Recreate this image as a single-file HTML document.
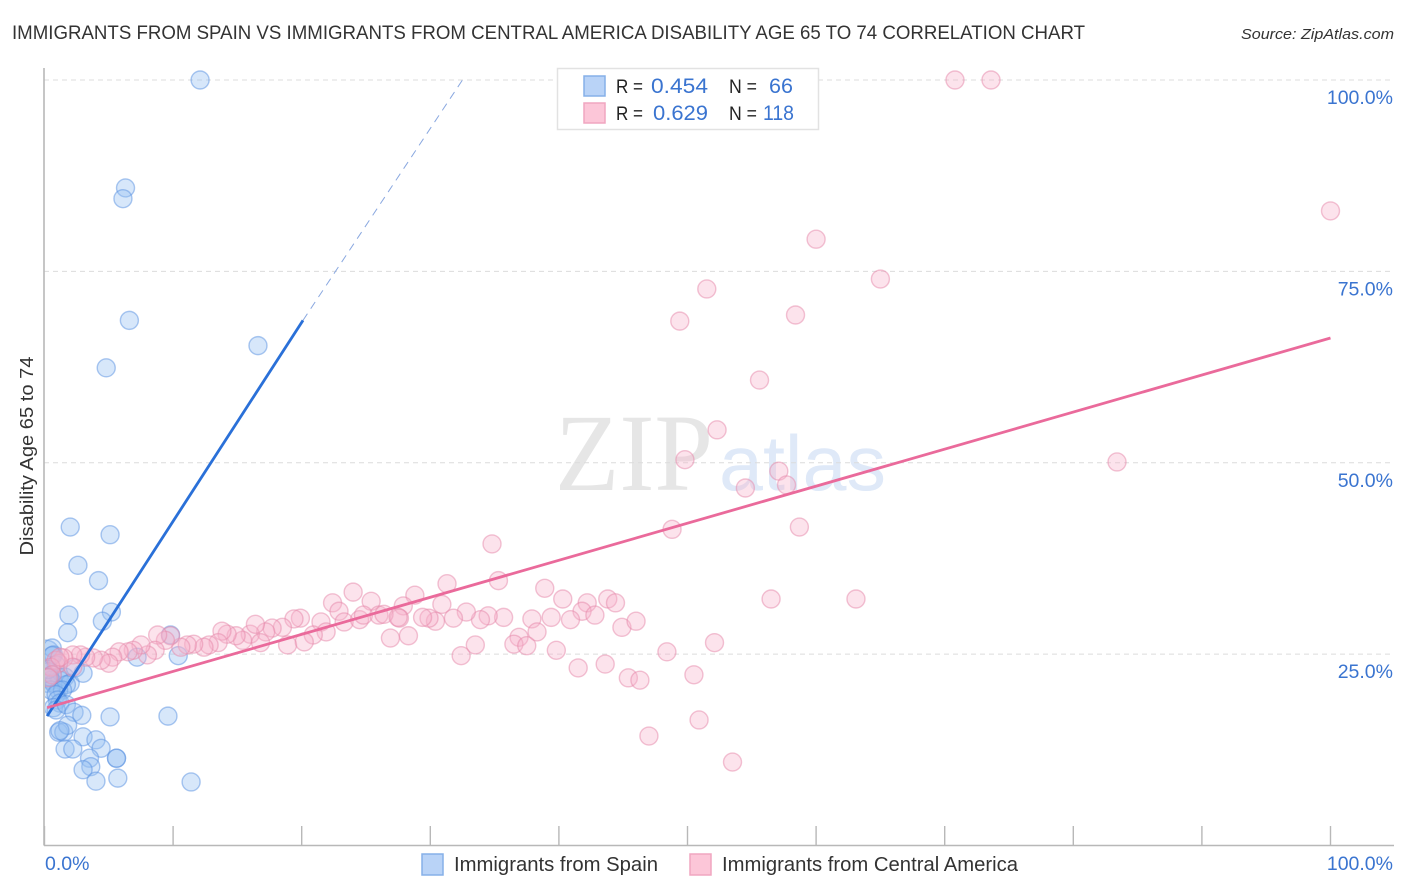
<!DOCTYPE html>
<html lang="en">
<head>
<meta charset="utf-8">
<title>Immigrants from Spain vs Immigrants from Central America Disability Age 65 to 74 Correlation Chart</title>
<style>
html,body{margin:0;padding:0;background:#fff;}
svg{display:block;}
text{font-family:"Liberation Sans",sans-serif;}
</style>
</head>
<body>
<svg id="chart" xmlns="http://www.w3.org/2000/svg" width="1406" height="892" viewBox="0 0 1406 892">
  <defs>
    <clipPath id="plot-clip"><rect x="45" y="60" width="1350" height="785"/></clipPath>
  </defs>
  <rect x="0" y="0" width="1406" height="892" fill="#fff"/>
  <text x="12" y="39" font-size="19.5" fill="#333" textLength="1073" lengthAdjust="spacingAndGlyphs">IMMIGRANTS FROM SPAIN VS IMMIGRANTS FROM CENTRAL AMERICA DISABILITY AGE 65 TO 74 CORRELATION CHART</text>
  <text x="1241" y="39" font-size="15" font-style="italic" fill="#333" textLength="153" lengthAdjust="spacingAndGlyphs">Source: ZipAtlas.com</text>

  <text x="555" y="490" font-size="110" fill="#e6e6e6" textLength="158" lengthAdjust="spacingAndGlyphs" style="font-family:'Liberation Serif',serif">ZIP</text>
  <text x="719" y="490" font-size="78" fill="#dfe9f8" textLength="167" lengthAdjust="spacingAndGlyphs">atlas</text>

  <g id="grid"></g>
  <g id="axes"></g>
  <g id="spain-points" clip-path="url(#plot-clip)"></g>
  <g id="central-points" clip-path="url(#plot-clip)"></g>
  <g id="trends"></g>
  <g id="tick-labels"></g>

  <text transform="translate(33,456) rotate(-90)" text-anchor="middle" font-size="18" fill="#333" textLength="199" lengthAdjust="spacingAndGlyphs">Disability Age 65 to 74</text>

  <g>
    <rect x="557.5" y="68.5" width="261" height="61" fill="#fff" stroke="#e2e2e2" stroke-width="1.5"/>
    <rect x="584" y="76" width="21" height="20" fill="#b9d3f7" stroke="#86b0e8" stroke-width="1.5"/>
    <rect x="584" y="103" width="21" height="20" fill="#fcc6d8" stroke="#f0a6c0" stroke-width="1.5"/>
    <text x="616" y="93" font-size="19" fill="#222" textLength="27" lengthAdjust="spacingAndGlyphs">R =</text>
    <text x="651" y="93" font-size="21" fill="#3a74d0" textLength="57" lengthAdjust="spacingAndGlyphs">0.454</text>
    <text x="729" y="93" font-size="19" fill="#222" textLength="28" lengthAdjust="spacingAndGlyphs">N =</text>
    <text x="769" y="93" font-size="21" fill="#3a74d0" textLength="24" lengthAdjust="spacingAndGlyphs">66</text>
    <text x="616" y="120" font-size="19" fill="#222" textLength="27" lengthAdjust="spacingAndGlyphs">R =</text>
    <text x="653" y="120" font-size="21" fill="#3a74d0" textLength="55" lengthAdjust="spacingAndGlyphs">0.629</text>
    <text x="729" y="120" font-size="19" fill="#222" textLength="28" lengthAdjust="spacingAndGlyphs">N =</text>
    <text x="763" y="120" font-size="21" fill="#3a74d0" textLength="31" lengthAdjust="spacingAndGlyphs">118</text>
  </g>

  <g>
    <rect x="422" y="854" width="21" height="21" fill="#b9d3f7" stroke="#86b0e8" stroke-width="1.5"/>
    <text x="454" y="871" font-size="20" fill="#333" textLength="204" lengthAdjust="spacingAndGlyphs">Immigrants from Spain</text>
    <rect x="690" y="854" width="21" height="21" fill="#fcc6d8" stroke="#f0a6c0" stroke-width="1.5"/>
    <text x="722" y="871" font-size="20" fill="#333" textLength="296" lengthAdjust="spacingAndGlyphs">Immigrants from Central America</text>
  </g>
</svg>
<script>
// Percent values
const spainX = [12.1,6.3,6.1,6.6,16.6,4.8,2.0,5.1,2.6,4.2,1.9,5.2,4.5,1.8,9.8,7.2,10.4,0.6,0.7,0.6,0.9,0.3,0.6,1.1,0.5,1.2,0.2,0.7,1.6,2.0,1.7,1.1,0.5,1.4,0.9,1.0,1.2,0.7,0.9,1.7,2.4,3.0,2.3,2.9,5.1,9.6,1.1,1.5,1.8,1.2,3.0,4.0,4.4,1.6,2.2,5.6,5.6,3.5,3.6,3.0,4.0,5.7,11.4,0.3,0.4];
const spainY = [100,85.9,84.5,68.6,65.3,62.4,41.6,40.6,36.6,34.6,30.1,30.5,29.3,27.8,27.5,24.6,24.8,25.8,24.9,24.8,23.6,22.7,22.3,22.0,21.6,21.6,21.2,21.2,22.0,21.2,21.0,20.3,20.3,20.3,19.7,19.0,18.6,18.0,17.7,18.4,23.2,22.5,17.4,17.0,16.8,16.9,14.8,14.8,15.7,15.0,14.2,13.8,12.7,12.6,12.6,11.4,11.4,11.4,10.3,9.9,8.4,8.8,8.3,23.0,22.0];
const spainLargeX = [0.1];
const spainLargeY = [25.0];
const centralX = [70.8,73.6,100,60.0,65.0,58.4,51.5,49.4,55.6,52.3,49.8,83.4,57.1,57.7,54.5,58.7,48.8,34.8,35.3,38.9,31.3,28.8,24.0,56.5,63.1,40.3,43.8,44.4,42.2,41.8,42.8,39.4,40.9,37.9,35.7,34.5,33.9,32.8,31.8,30.9,30.4,29.9,29.4,27.9,27.6,28.3,44.9,46.0,38.3,36.9,36.5,37.5,39.8,33.5,32.4,41.5,43.6,45.4,46.3,48.4,50.5,50.9,52.1,47.0,53.5,22.4,22.9,25.4,23.3,24.5,24.8,26.0,26.4,27.5,21.5,21.9,20.9,19.9,19.4,18.5,17.7,17.2,16.0,16.4,16.8,15.4,14.9,14.2,13.8,18.9,20.2,26.9,13.5,12.8,12.4,11.6,11.1,10.6,9.8,9.4,8.8,8.6,8.0,7.5,6.9,6.5,5.8,5.3,5.0,4.4,3.8,3.2,2.8,2.2,1.5,1.1,0.9,0.5,0.6,2.2,1.2,0.3];
const centralY = [100,100,82.9,79.2,74.0,69.3,72.7,68.5,60.8,54.3,50.4,50.1,48.9,47.1,46.7,41.6,41.3,39.4,34.6,33.6,34.2,32.7,33.1,32.2,32.2,32.2,32.2,31.7,31.7,30.6,30.1,29.8,29.5,29.6,29.8,30.0,29.5,30.5,29.7,31.5,29.3,29.7,29.8,31.3,29.7,27.4,28.5,29.3,27.9,27.2,26.3,26.1,25.5,26.2,24.8,23.2,23.7,21.9,21.6,25.3,22.3,16.4,26.5,14.3,10.9,31.7,30.6,31.9,29.2,29.5,30.1,30.1,30.2,29.8,29.2,27.9,27.5,29.7,29.6,28.5,28.4,27.9,27.6,28.9,26.5,26.8,27.4,27.6,28.0,26.2,26.6,27.1,26.5,26.2,25.9,26.3,26.2,25.9,27.4,26.8,27.5,25.5,24.9,26.2,25.5,25.3,25.3,24.6,23.8,24.2,24.5,24.6,24.9,24.9,24.5,23.8,24.2,23.3,22.3,23.3,24.6,21.9];
const spainTrendX = [0.2, 20.1];
const spainTrendY = [16.9, 68.6];
const spainProjectionX = [20.1, 32.5];
const spainProjectionY = [68.6, 100];
const centralTrendX = [0.2, 100];
const centralTrendY = [18.0, 66.3];
const xTickValues = [0,10,20,30,40,50,60,70,80,90,100];
const xTickLabels = ["0.0%","100.0%"];
const xLabelValues = [0,100];
const yTickValues = [25,50,75,100];
const yTickLabels = ["25.0%","50.0%","75.0%","100.0%"];

const SVG_NS = "http://www.w3.org/2000/svg";
function xScale(v){ return 44.5 + v * 12.86; }
function yScale(v){ return 845.5 - v * 7.655; }
function make(tag, attrs, parent){
  const el = document.createElementNS(SVG_NS, tag);
  for (const k in attrs) el.setAttribute(k, attrs[k]);
  parent.appendChild(el);
  return el;
}
const gridG = document.getElementById("grid");
const axesG = document.getElementById("axes");
const labelG = document.getElementById("tick-labels");
const spainG = document.getElementById("spain-points");
const centralG = document.getElementById("central-points");
const trendG = document.getElementById("trends");

yTickValues.forEach(function(v, i){
  const g = make("line", {x1:44, x2:1394, y1:yScale(v), y2:yScale(v), stroke:"#dcdcdc", "stroke-width":1, "stroke-dasharray":"5 4"}, gridG);
  
  
  const t = make("text", {x:1393, y:yScale(v)+24, "text-anchor":"end", "font-size":19.5, fill:"#3a74d0"}, labelG);
  
  
  t.textContent = yTickLabels[i];
});

const yAxis = make("line", {x1:44, x2:44, y1:68, y2:845.5, stroke:"#b8b8b8", "stroke-width":1.6}, axesG);


const xAxis = make("line", {x1:44, x2:1394, y1:845.5, y2:845.5, stroke:"#b8b8b8", "stroke-width":1.6}, axesG);


xTickValues.forEach(function(v){
  const tick = make("line", {x1:xScale(v), x2:xScale(v), y1:826, y2:845.5, stroke:"#b8b8b8", "stroke-width":1.4}, axesG);
  
  
});
xLabelValues.forEach(function(v, i){
  const attrs = i === 0
    ? {x:xScale(v)+0.5, y:870, "font-size":19.5, fill:"#3a74d0"}
    : {x:1393, y:870, "text-anchor":"end", "font-size":19.5, fill:"#3a74d0"};
  const t = make("text", attrs, labelG);
  
  
  t.textContent = xTickLabels[i];
});

spainLargeX.forEach(function(v, i){
  const c = make("circle", {cx:xScale(v), cy:yScale(spainLargeY[i]), r:14, fill:"rgba(150,192,242,0.38)", stroke:"rgba(90,145,225,0.5)", "stroke-width":1.4}, spainG);
  
  
});
spainX.forEach(function(v, i){
  const c = make("circle", {cx:xScale(v), cy:yScale(spainY[i]), r:9, fill:"rgba(150,192,242,0.38)", stroke:"rgba(90,145,225,0.5)", "stroke-width":1.4}, spainG);
  
  
});
centralX.forEach(function(v, i){
  const c = make("circle", {cx:xScale(v), cy:yScale(centralY[i]), r:9, fill:"rgba(248,178,202,0.36)", stroke:"rgba(230,135,170,0.5)", "stroke-width":1.4}, centralG);
  
  
});

const projLine = make("line", {x1:xScale(spainProjectionX[0]), y1:yScale(spainProjectionY[0]), x2:xScale(spainProjectionX[1]), y2:yScale(spainProjectionY[1]), stroke:"#8aa8e0", "stroke-width":1, "stroke-dasharray":"8 6"}, trendG);


const spainLine = make("line", {x1:xScale(spainTrendX[0]), y1:yScale(spainTrendY[0]), x2:xScale(spainTrendX[1]), y2:yScale(spainTrendY[1]), stroke:"#2a70d8", "stroke-width":2.8}, trendG);


const centralLine = make("line", {x1:xScale(centralTrendX[0]), y1:yScale(centralTrendY[0]), x2:xScale(centralTrendX[1]), y2:yScale(centralTrendY[1]), stroke:"#ea6a9b", "stroke-width":2.8}, trendG);


</script>
</body>
</html>
